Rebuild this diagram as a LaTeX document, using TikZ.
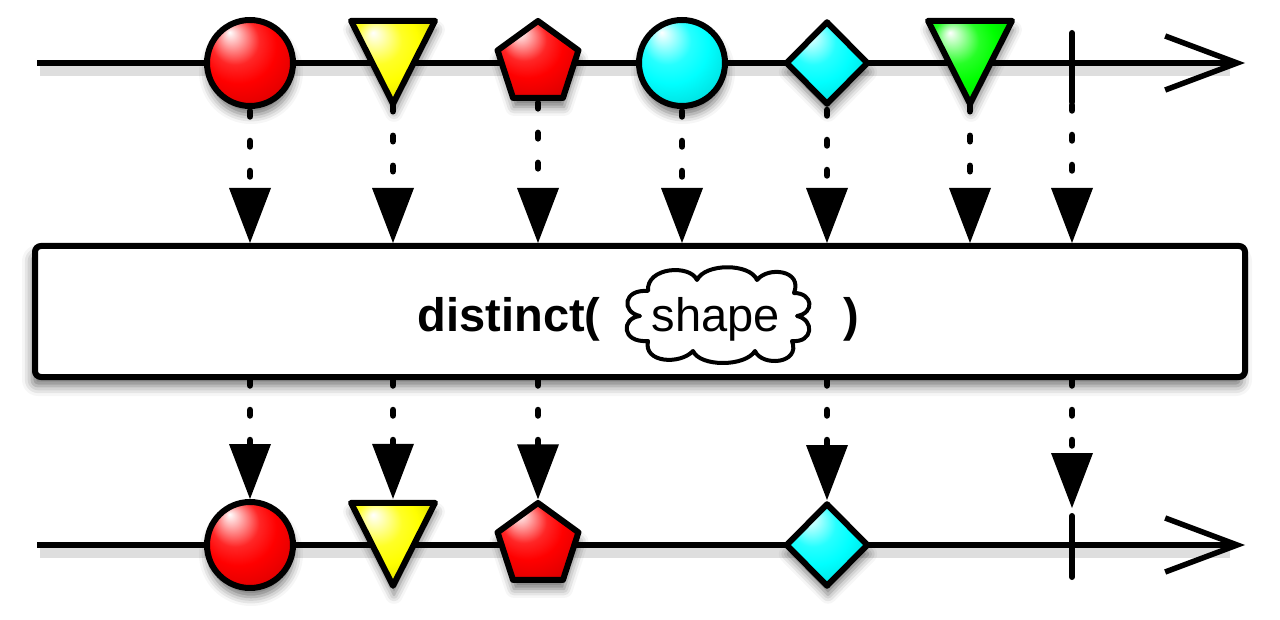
\documentclass[tikz,border=0pt]{standalone}
\usepackage{fontspec}
\setmainfont{Liberation Sans}
\usetikzlibrary{arrows.meta,shapes.geometric,shadows.blur}
\colorlet{glosscol}{red}
\pgfdeclareradialshading[glosscol]{gloss}{\pgfpoint{-12bp}{18bp}}{%
  color(0bp)=(white);
  color(5bp)=(glosscol!30!white);
  color(14bp)=(glosscol!85!white);
  color(22bp)=(glosscol);
  color(36bp)=(glosscol!84!black);
  color(50bp)=(glosscol!62!black)}
\begin{document}
\begin{tikzpicture}[x=0.5pt,y=-0.5pt,
  axis/.style={line width=2.75pt,-{Straight Barb[length=36pt,width=27pt]}},
  axshadow/.style={line width=5pt,black,opacity=0.13},
  gloss/.style={shade,shading=gloss,/utils/exec={\colorlet{glosscol}{#1}}},
  shp/.style={draw=black,line width=3pt,line join=round,inner sep=0pt,outer sep=1.5pt,
     blur shadow={shadow xshift=0.5pt,shadow yshift=-4.5pt,shadow blur radius=4.5pt,shadow opacity=55}},
  tribox/.style={inner sep=0pt,outer sep=0pt,minimum width=42pt,minimum height=41.5pt},
  termbox/.style={inner sep=0pt,outer sep=0pt,minimum width=0pt},
  term/.style={line width=3pt,line cap=round},
  dotline/.style={line width=3.25pt,line cap=round,dash pattern=on 2.75pt off 12.25pt,shorten >=20pt},
  tipfill/.style={fill=black},
  bigbold/.style={inner sep=0pt,font=\bfseries\fontsize{23.5}{28}\selectfont},
  bigreg/.style={inner sep=0pt,font=\fontsize{23.5}{28}\selectfont}
]
\useasboundingbox (0,0) rectangle (1280,620);

% ---------- top timeline ----------
\coordinate (a0) at (37,63);
\coordinate (a9) at (1245,63);
\draw[axshadow] (40,71) -- (1230,71);
\draw[axis] (a0) -- (a9);

\node[shp,circle,minimum size=43pt,gloss=red] (c1) at (250,63) {};
\node[tribox] (t1) at (393,62.3) {};
\draw[shp,gloss=yellow] (t1.north west) -- (t1.north east) -- (t1.south) -- cycle;
\node[shp,regular polygon,regular polygon sides=5,minimum size=42.5pt,gloss=red] (p1) at (538,63.5) {};
\node[shp,circle,minimum size=43pt,gloss=cyan] (c2) at (682,63) {};
\node[shp,diamond,minimum width=41.5pt,minimum height=42pt,gloss=cyan] (d1) at (827,63) {};
\node[tribox] (t2) at (970,62.3) {};
\draw[shp,gloss=green] (t2.north west) -- (t2.north east) -- (t2.south) -- cycle;
\node[termbox,minimum height=34.5pt] (e1) at (1072,67.5) {};
\draw[term] (e1.north) -- (e1.south);

% ---------- operator box ----------
\node[draw,fill=white,line width=3pt,rounded corners=3pt,minimum width=605pt,minimum height=65.5pt,
  blur shadow={shadow xshift=-1.5pt,shadow yshift=-4.5pt,shadow blur radius=5pt,shadow opacity=55}]
  (box) at (640,311.5) {};
\node[bigbold,anchor=base east] (fn) at (601,331) {distinct(};
\node[bigreg,anchor=base] (arg) at (716,331) {shape};
\draw[line width=2pt,line join=round]
  (648,291) .. controls (646,267) and (690,264) .. (697,280)
  .. controls (705,263) and (750,263) .. (757,280)
  .. controls (768,266) and (803,270) .. (794,293)
  .. controls (813,293) and (815,313) .. (797,316)
  .. controls (815,320) and (813,343) .. (792,341)
  .. controls (801,364) and (762,367) .. (755,351)
  .. controls (745,367) and (700,367) .. (693,351)
  .. controls (680,365) and (643,363) .. (648,341)
  .. controls (621,343) and (621,318) .. (640,316)
  .. controls (621,312) and (623,289) .. (648,291) -- cycle;
\node[bigbold,anchor=base west] (rp) at (843,331) {)};

% ---------- arrows into the box ----------
\draw[dotline] ([yshift=-1pt]c1.south) -- (c1 |- box.north);
\draw[dotline] ([yshift=-1pt]t1.south) -- (t1 |- box.north);
\draw[dotline] ([yshift=-1pt]p1.south) -- (p1 |- box.north);
\draw[dotline] ([yshift=-1pt]c2.south) -- (c2 |- box.north);
\draw[dotline] ([yshift=-1pt]d1.south) -- (d1 |- box.north);
\draw[dotline] ([yshift=-1pt]t2.south) -- (t2 |- box.north);
\draw[dotline] ([yshift=-1.5pt]e1.south) -- (e1 |- box.north);
\fill[tipfill] (c1 |- box.north) -- ++(-21,-55) -- ++(42,0) -- cycle;
\fill[tipfill] (t1 |- box.north) -- ++(-21,-55) -- ++(42,0) -- cycle;
\fill[tipfill] (p1 |- box.north) -- ++(-21,-55) -- ++(42,0) -- cycle;
\fill[tipfill] (c2 |- box.north) -- ++(-21,-55) -- ++(42,0) -- cycle;
\fill[tipfill] (d1 |- box.north) -- ++(-21,-55) -- ++(42,0) -- cycle;
\fill[tipfill] (t2 |- box.north) -- ++(-21,-55) -- ++(42,0) -- cycle;
\fill[tipfill] (e1 |- box.north) -- ++(-21,-55) -- ++(42,0) -- cycle;

% ---------- bottom timeline ----------
\coordinate (b0) at (37,545);
\coordinate (b9) at (1245,545);
\draw[axshadow] (40,553) -- (1230,553);
\draw[axis] (b0) -- (b9);

\node[shp,circle,minimum size=43pt,gloss=red] (c3) at (250,545) {};
\node[tribox] (t3) at (393,544.3) {};
\draw[shp,gloss=yellow] (t3.north west) -- (t3.north east) -- (t3.south) -- cycle;
\node[shp,regular polygon,regular polygon sides=5,minimum size=42.5pt,gloss=red] (p2) at (538,545.5) {};
\node[shp,diamond,minimum width=41.5pt,minimum height=42pt,gloss=cyan] (d2) at (827,545) {};
\node[termbox,minimum height=30.5pt] (e2) at (1072,546.5) {};
\draw[term] (e2.north) -- (e2.south);

% ---------- arrows out of the box ----------
\draw[dotline] (box.south -| c3) -- (c3.north);
\draw[dotline] (box.south -| t3) -- ([yshift=2pt]t3.north);
\draw[dotline] (box.south -| p2) -- (p2.north);
\draw[dotline] (box.south -| d2) -- (d2.north);
\draw[dotline] (box.south -| e2) -- ([yshift=4pt]e2.north);
\fill[tipfill] (c3.north) -- ++(-21,-55) -- ++(42,0) -- cycle;
\fill[tipfill] ([yshift=2pt]t3.north) -- ++(-21,-55) -- ++(42,0) -- cycle;
\fill[tipfill] (p2.north) -- ++(-21,-55) -- ++(42,0) -- cycle;
\fill[tipfill] (d2.north) -- ++(-21,-55) -- ++(42,0) -- cycle;
\fill[tipfill] ([yshift=4pt]e2.north) -- ++(-21,-55) -- ++(42,0) -- cycle;
\end{tikzpicture}
\end{document}
